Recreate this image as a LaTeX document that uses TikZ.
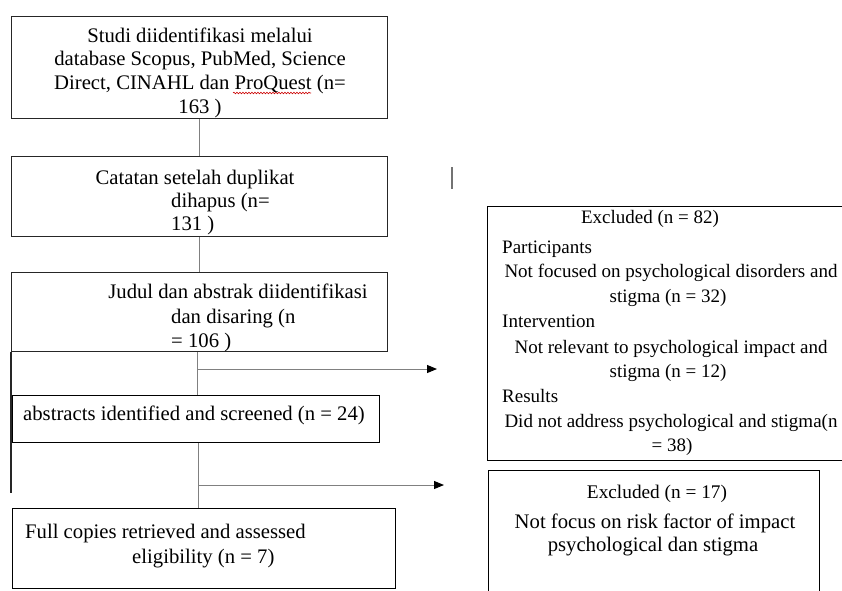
\documentclass[tikz,border=0pt]{standalone}
\usepackage{fontspec}
\setmainfont{Liberation Serif}
\usetikzlibrary{arrows.meta,decorations.pathmorphing}
\begin{document}
\begin{tikzpicture}[x=1pt,y=-1pt,
  box/.style={draw=black!85,line width=1.2pt,rectangle,inner sep=0pt,anchor=north west},
  conn/.style={draw=black!50,line width=1pt},
  arr/.style={draw=black!50,line width=1pt,-{Triangle[length=10pt,width=8pt,color=black]}},
  txt/.style={inner sep=0pt,font=\fontsize{20.7}{24}\selectfont},
  lft/.style={txt,anchor=base west},
  ctr/.style={txt,anchor=base},
  sml/.style={font=\fontsize{19}{24}\selectfont}]
\useasboundingbox (0,0) rectangle (842,590);
\clip (0,0) rectangle (842,590);
\fill[white] (0,0) rectangle (842,590);
% boxes
\node[box,minimum width=376pt,minimum height=102pt] (b1) at (11,16) {};
\node[box,minimum width=376pt,minimum height=80pt] (b2) at (11,156) {};
\node[box,minimum width=376pt,minimum height=79pt] (b3) at (11,272) {};
\node[box,draw=black,minimum width=367pt,minimum height=47pt] (b4) at (12,395) {};
\node[box,draw=black,minimum width=383pt,minimum height=80pt] (b5) at (12,508) {};
\node[box,draw=black,minimum width=365pt,minimum height=254pt] (ba) at (487,206) {};
\node[box,draw=black,minimum width=331pt,minimum height=140pt] (bb) at (488,470) {};
% box 1 text
\node[ctr] (t11) at (200,42) {Studi diidentifikasi melalui};
\node[ctr] (t12) at (200,65) {database Scopus, PubMed, Science};
\node[ctr] (t13) at (200,89) {Direct, CINAHL dan ProQuest (n=};
\node[ctr] (t14) at (200,113) {163 )};
\coordinate (w1) at (233,93);
\coordinate (w2) at (311,93);
\draw[red!80!black,line width=0.6pt,decorate,decoration={snake,amplitude=0.8pt,segment length=3pt}] (w1) -- (w2);
% box 2 text
\node[ctr] (t21) at (195,184) {Catatan setelah duplikat};
\node[lft] (t22) at (171,207) {dihapus (n=};
\node[lft] (t23) at (171,230) {131 )};
% box 3 text
\node[ctr] (t31) at (238,298) {Judul dan abstrak diidentifikasi};
\node[lft] (t32) at (171,323) {dan disaring (n};
\node[lft] (t33) at (171,347) {= 106 )};
% box 4 text
\node[ctr] (t41) at (194,420) {abstracts identified and screened (n = 24)};
% box 5 text
\node[lft] (t51) at (25,538) {Full copies retrieved and assessed};
\node[lft] (t52) at (132,563) {eligibility (n = 7)};
% box A text
\node[ctr,sml] (ta1) at (650,223) {Excluded (n = 82)};
\node[lft,sml] (ta2) at (502,253) {Participants};
\node[ctr,sml] (ta3) at (671,277) {Not focused on psychological disorders and};
\node[ctr,sml] (ta4) at (668,302) {stigma (n = 32)};
\node[lft,sml] (ta5) at (502,327) {Intervention};
\node[ctr,sml] (ta6) at (671,353) {Not relevant to psychological impact and};
\node[ctr,sml] (ta7) at (668,377) {stigma (n = 12)};
\node[lft,sml] (ta8) at (502,402) {Results};
\node[ctr,sml] (ta9) at (671,427) {Did not address psychological and stigma(n};
\node[ctr,sml] (ta10) at (672,451) {= 38)};
% box B text
\node[ctr,font=\fontsize{19.3}{24}\selectfont] (tb1) at (657,498) {Excluded (n = 17)};
\node[ctr] (tb2) at (655,528) {Not focus on risk factor of impact};
\node[ctr] (tb3) at (653,551) {psychological dan stigma};
% connectors
\draw[conn] (b1.south) -- (b2.north);
\draw[conn] (b2.south) -- (b3.north);
\coordinate (j1) at (197,369);
\coordinate (e1) at (437,369);
\draw[conn] (b3.south -| j1) -- (b4.north -| j1);
\draw[arr] (j1) -- (e1);
\coordinate (j2) at (198,485);
\coordinate (e2) at (444,485);
\draw[conn] (b4.south -| j2) -- (b5.north -| j2);
\draw[arr] (j2) -- (e2);
\coordinate (l1) at (11,493);
\draw[draw=black!85,line width=1.2pt] (b3.south west) -- (l1);
\coordinate (m1) at (452,167);
\coordinate (m2) at (452,189);
\draw[draw=black!55,line width=1.2pt] (m1) -- (m2);
\end{tikzpicture}
\end{document}
